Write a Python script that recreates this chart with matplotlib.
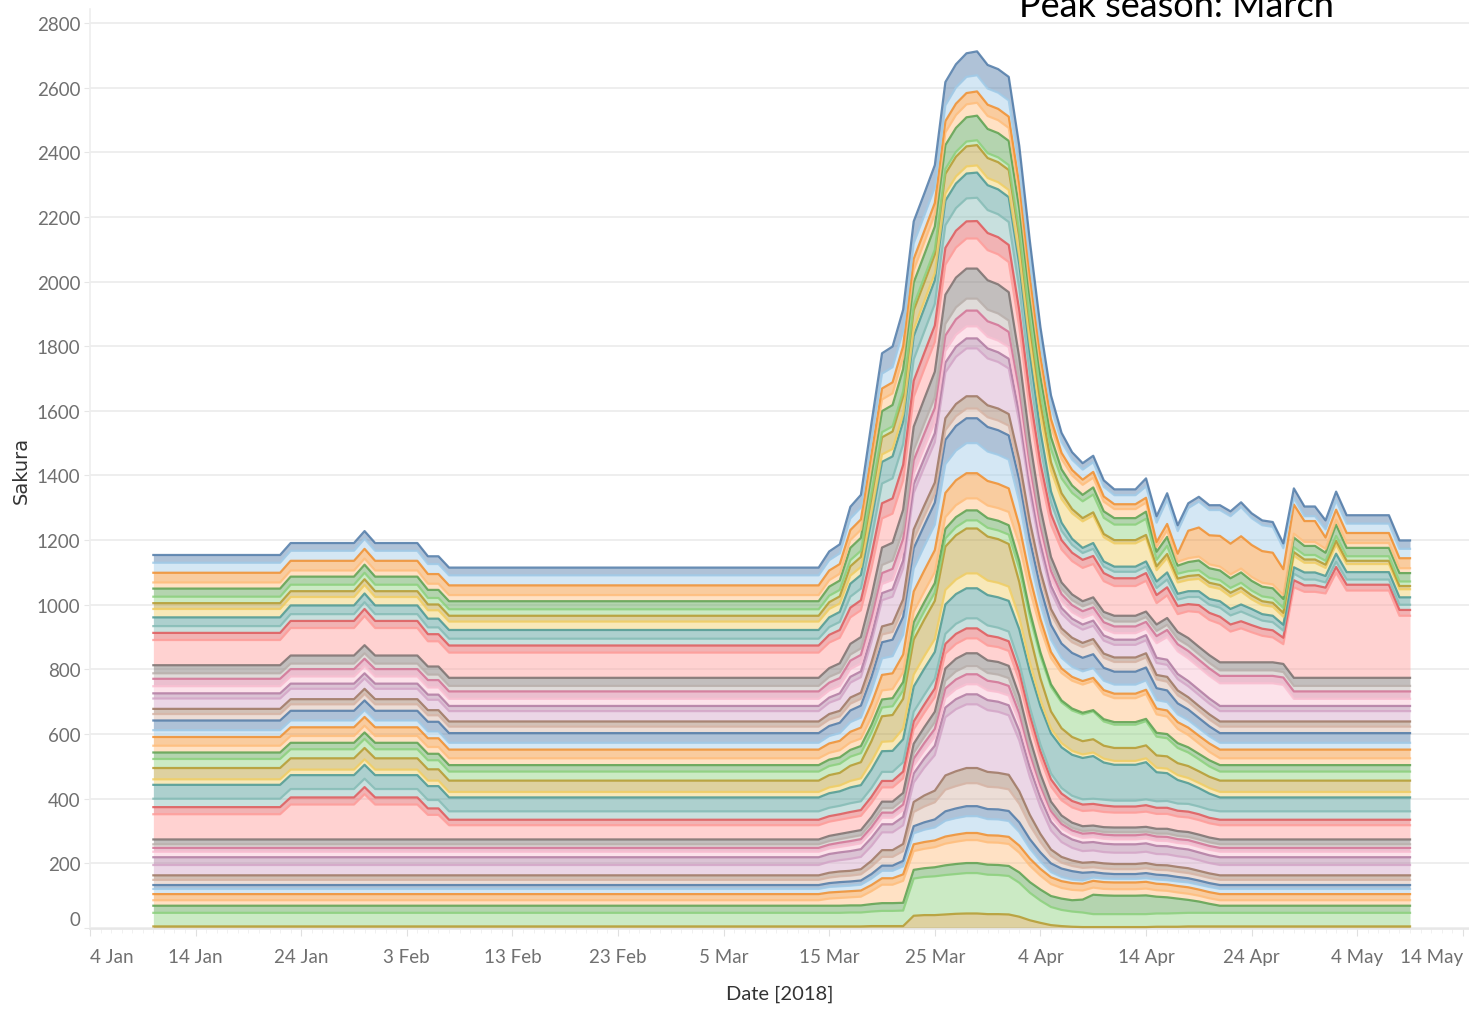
import numpy as np
import pandas as pd
import matplotlib.pyplot as plt
import matplotlib.dates as mdates

# ============================================================
# data: dates where the stacked values change (2018)
# ============================================================
dates = pd.to_datetime([
    "2018-01-10", "2018-01-22", "2018-01-23", "2018-01-29", "2018-01-30",
    "2018-01-31", "2018-02-04", "2018-02-05", "2018-02-06", "2018-02-07",
    "2018-03-14", "2018-03-15", "2018-03-16", "2018-03-17", "2018-03-18",
    "2018-03-19", "2018-03-20", "2018-03-21", "2018-03-22", "2018-03-23",
    "2018-03-24", "2018-03-25", "2018-03-26", "2018-03-27", "2018-03-28",
    "2018-03-29", "2018-03-30", "2018-03-31", "2018-04-01", "2018-04-02",
    "2018-04-03", "2018-04-04", "2018-04-05", "2018-04-06", "2018-04-07",
    "2018-04-08", "2018-04-09", "2018-04-10", "2018-04-11", "2018-04-13",
    "2018-04-14", "2018-04-15", "2018-04-16", "2018-04-17", "2018-04-18",
    "2018-04-19", "2018-04-20", "2018-04-21", "2018-04-22", "2018-04-23",
    "2018-04-24", "2018-04-25", "2018-04-26", "2018-04-27", "2018-04-28",
    "2018-04-29", "2018-04-30", "2018-05-01", "2018-05-02", "2018-05-03",
    "2018-05-07", "2018-05-08", "2018-05-09",
])

# series, listed from the top of the stack down to the bottom
s01 = [24] * 10 + [24, 27, 28, 36, 39, 53, 63, 64, 66, 68, 68, 69, 72, 72, 73, 74,
                   73, 73, 73, 70, 62, 49, 36, 28, 23,
                   20, 20, 20, 18, 18, 25, 20, 20, 18, 15, 15, 15, 15,
                   15, 15, 15, 15, 15, 15, 30, 30, 30, 28, 28, 26, 26, 26, 26]
s02 = [31] * 10 + [31, 32, 33, 36, 37, 42, 46, 47, 47, 48, 48, 48, 49, 50, 50, 50,
                   50, 50, 50, 49, 46, 41, 37, 34, 32,
                   31, 30, 30, 28, 28, 35, 60, 75, 70, 70, 80, 78, 80,
                   85, 90, 83, 80, 80, 65, 20, 15, 15, 25, 28, 29, 29, 29, 29]
s03 = [30] * 10 + [30, 30, 30, 31, 32, 33, 34, 34, 34, 35, 35, 35, 35, 35, 35, 35,
                   35, 35, 35, 34, 31, 26, 22, 19, 17,
                   16, 18, 16, 15, 15, 15, 15, 20, 25, 85, 90, 90, 95,
                   95, 100, 99, 98, 98, 80, 90, 65, 65, 35, 31, 31, 31, 31, 31]
s04 = [19] * 10 + [19, 20, 21, 24, 25, 32, 36, 36, 37, 38, 38, 38, 39, 40, 40, 40,
                   40, 40, 40, 40, 38, 36, 34, 32, 31,
                   31, 30, 30, 28, 28, 28, 15, 20, 12, 12, 12, 12, 12,
                   12, 12, 12, 12, 12, 12, 12, 12, 12, 12, 15, 15, 15, 15, 15]
s05 = [25] * 10 + [25, 28, 29, 38, 40, 55, 65, 66, 68, 70, 70, 71, 74, 74, 75, 76,
                   75, 75, 75, 72, 64, 50, 37, 28, 23,
                   20, 22, 20, 20, 20, 22, 25, 28, 25, 28, 30, 30, 30,
                   30, 32, 30, 30, 30, 28, 30, 28, 28, 25, 35, 26, 26, 26, 26]
s06 = [20] * 10 + [20, 20, 20, 19, 19, 17, 16, 16, 16, 16, 16, 15, 15, 15, 15, 15,
                   15, 15, 15, 17, 22, 32, 41, 46, 50,
                   52, 55, 50, 48, 48, 50, 20, 25, 15, 15, 15, 15, 15,
                   15, 15, 15, 15, 15, 15, 15, 14, 14, 12, 15, 14, 14, 14, 14]
s07 = [18] * 10 + [18, 21, 22, 29, 31, 44, 53, 54, 55, 58, 58, 58, 61, 61, 62, 63,
                   62, 62, 62, 59, 52, 39, 26, 18, 13,
                   10, 10, 10, 10, 10, 10, 12, 12, 12, 12, 12, 12, 12,
                   12, 12, 12, 12, 12, 12, 12, 10, 10, 10, 12, 10, 10, 10, 10]
s08 = [26] * 10 + [26, 26, 26, 25, 25, 24, 23, 23, 23, 22, 22, 22, 22, 22, 22, 22,
                   22, 22, 22, 25, 34, 49, 64, 73, 79,
                   82, 85, 75, 72, 72, 72, 35, 45, 35, 35, 38, 38, 38,
                   38, 40, 30, 28, 28, 25, 35, 30, 30, 25, 28, 25, 25, 25, 25]
s09 = [27] * 10 + [27, 30, 31, 40, 42, 57, 67, 68, 70, 72, 72, 73, 76, 76, 77, 78,
                   77, 77, 77, 74, 65, 50, 34, 25, 19,
                   16, 18, 16, 16, 16, 16, 20, 22, 18, 18, 18, 18, 20,
                   20, 22, 22, 20, 20, 18, 20, 22, 22, 20, 25, 23, 23, 23, 23]
s10 = [21] * 10 + [21, 24, 25, 34, 36, 51, 61, 62, 64, 66, 66, 67, 70, 70, 71, 72,
                   71, 71, 71, 69, 61, 49, 36, 29, 24,
                   21, 22, 20, 20, 20, 20, 22, 24, 20, 22, 25, 25, 28,
                   28, 30, 28, 25, 25, 22, 20, 18, 18, 16, 16, 16, 16, 16, 16]
s11 = [22] * 10 + [22, 24, 24, 30, 31, 41, 47, 47, 48, 50, 50, 51, 52, 52, 53, 54,
                   53, 53, 53, 52, 47, 40, 33, 29, 26,
                   25, 25, 25, 24, 24, 24, 25, 25, 25, 22, 22, 22, 22,
                   22, 22, 22, 22, 22, 20, 22, 20, 20, 18, 18, 18, 18, 18, 18]
s12 = [78, 78, 85, 85, 90, 85, 85, 78, 78, 78,
       78, 79, 79, 82, 83, 87, 90, 90, 91, 92, 92, 92, 93, 93, 93, 93,
       93, 93, 93, 94, 95, 98, 100, 102, 103,
       103, 103, 95, 92, 92, 95, 66, 70, 55, 83, 107, 109, 119,
       95, 105, 93, 82, 77, 61, 280, 266, 266, 261, 325, 270, 270, 192, 192]
s13 = [25] * 10 + [25, 27, 28, 33, 35, 43, 54, 55, 62, 73, 76, 79, 90, 92, 93, 93,
                   91, 90, 88, 70, 51, 35, 25, 20, 18,
                   16, 16, 17, 18, 18, 17, 20, 21, 22, 23, 23, 24, 25] + [25] * 15
s14 = [17] * 10 + [17, 18, 18, 19, 20, 22, 25, 26, 28, 31, 32, 33, 36, 37, 37, 37,
                   36, 36, 35, 30, 25, 21, 18, 16, 15,
                   15, 15, 15, 15, 15, 15, 16, 16, 16, 17, 17, 17, 17] + [17] * 15
s15 = [23] * 10 + [23, 24, 24, 26, 27, 30, 34, 34, 37, 41, 43, 44, 48, 48, 49, 49,
                   48, 48, 47, 41, 34, 28, 24, 22, 22,
                   21, 21, 21, 21, 21, 21, 22, 22, 22, 23, 23, 23, 23] + [23] * 15
s16 = [22] * 10 + [22, 22, 23, 24, 24, 26, 28, 29, 30, 33, 33, 34, 36, 37, 37, 37,
                   36, 36, 36, 32, 28, 24, 22, 21, 20,
                   20, 20, 20, 20, 20, 20, 45, 70, 70, 70, 70, 70, 70,
                   70, 70, 70, 70, 70, 65, 22, 22, 22, 22, 22, 22, 22, 22, 22]
s17 = [16] * 10 + [16, 16, 17, 18, 18, 20, 22, 23, 24, 27, 27, 28, 30, 31, 31, 31,
                   31, 30, 30, 27, 23, 20, 18, 17, 16] + [16] * 28
s18 = [32] * 10 + [32, 35, 37, 46, 48, 63, 81, 83, 96, 113, 119, 125, 142, 146, 148, 148,
                   145, 144, 141, 116, 89, 68, 54, 46, 43,
                   41, 41, 40, 39, 39, 40, 37, 37, 35, 34, 34, 33, 32] + [32] * 15
s19 = [16] * 10 + [16, 17, 17, 19, 19, 22, 25, 26, 28, 31, 33, 34, 37, 38, 38, 38,
                   37, 37, 36, 31, 24, 19, 16, 14, 14,
                   13, 13, 13, 14, 14, 13, 14, 15, 15, 15, 15, 16, 16] + [16] * 15
s20 = [20] * 10 + [20, 20, 20, 21, 21, 23, 24, 24, 26, 27, 28, 28, 30, 30, 30, 30,
                   30, 30, 30, 31, 32, 32, 33, 33, 33,
                   33, 34, 31, 30, 30, 31, 27, 27, 25, 23, 22, 21, 20] + [20] * 15
s21 = [30] * 10 + [30, 31, 32, 36, 37, 43, 50, 51, 56, 63, 65, 68, 75, 76, 77, 77,
                   76, 76, 75, 67, 58, 51, 46, 44, 43,
                   42, 43, 40, 40, 40, 40, 37, 36, 34, 33, 32, 31, 30] + [30] * 15
s22 = [21] * 10 + [21, 23, 24, 30, 31, 40, 51, 53, 61, 71, 75, 79, 89, 92, 93, 93,
                   91, 90, 89, 74, 58, 46, 38, 33, 31,
                   30, 30, 29, 28, 28, 29, 26, 26, 24, 23, 23, 22, 21] + [21] * 15
s23 = [27] * 10 + [27, 29, 29, 33, 34, 41, 48, 49, 55, 63, 65, 68, 75, 77, 78, 78,
                   76, 75, 73, 58, 41, 28, 19, 14, 12,
                   11, 10, 13, 14, 14, 13, 18, 19, 21, 23, 24, 26, 27] + [27] * 15
s24 = [21] * 10 + [21, 21, 22, 23, 23, 25, 28, 28, 30, 32, 33, 34, 36, 37, 37, 37,
                   39, 39, 41, 52, 65, 75, 81, 85, 86,
                   87, 90, 77, 74, 74, 77, 57, 54, 44, 38, 32, 26, 21] + [21] * 15
s25 = [20] * 10 + [20, 20, 20, 21, 22, 23, 25, 25, 26, 28, 28, 29, 30, 31, 31, 31,
                   30, 30, 29, 23, 17, 12, 8, 6, 6,
                   5, 4, 7, 8, 8, 7, 12, 13, 15, 16, 17, 19, 20] + [20] * 15
s26 = [28] * 10 + [28, 28, 28, 28, 28, 27, 27, 27, 26, 26, 26, 26, 25, 25, 25, 25,
                   27, 27, 29, 42, 57, 69, 76, 80, 82,
                   83, 86, 75, 72, 72, 75, 58, 56, 47, 42, 37, 32, 28] + [28] * 15
s27 = [35] * 10 + [35, 38, 39, 47, 50, 63, 79, 81, 92, 108, 113, 118, 134, 137, 139, 139,
                   136, 135, 132, 110, 85, 66, 53, 46, 43,
                   41, 41, 40, 40, 40, 40, 38, 38, 37, 37, 36, 35, 35] + [35] * 15
s28 = [17] * 10 + [17, 18, 18, 20, 21, 25, 29, 30, 33, 37, 39, 40, 45, 45, 46, 46,
                   45, 45, 44, 36, 27, 20, 15, 13, 12,
                   11, 11, 12, 12, 12, 12, 14, 14, 15, 16, 16, 17, 17] + [17] * 15
s29 = [43] * 10 + [43, 45, 45, 49, 50, 57, 64, 65, 71, 78, 81, 83, 91, 92, 93, 93,
                   94, 94, 95, 104, 112, 119, 124, 126, 127,
                   128, 132, 115, 111, 111, 115, 90, 86, 73, 64, 57, 50, 43] + [43] * 15
s30 = [26] * 10 + [26, 26, 26, 27, 27, 27, 28, 28, 29, 30, 30, 30, 31, 31, 31, 31,
                   31, 30, 30, 27, 23, 20, 18, 17, 16,
                   16, 16, 18, 18, 18, 18, 20, 21, 22, 24, 24, 25, 26] + [26] * 15
s31 = [22, 22, 22, 22, 22, 22, 22, 20, 20, 17,
       17, 17, 17, 18, 18, 19, 20, 20, 21, 24, 25, 27, 30, 31, 31, 31,
       31, 30, 30, 28, 26, 23, 22, 21, 20,
       20, 20, 20, 19, 19, 20, 19, 19, 18, 18, 18, 17, 17] + [17] * 15
s32 = [78, 78, 108, 108, 140, 108, 108, 76, 76, 44,
       44, 44, 44, 44, 44, 44, 44, 44, 45, 45, 45, 45, 46, 46, 46, 46,
       46, 46, 46, 46, 47, 47, 47, 47, 47,
       47, 47, 47, 46, 46, 47, 46, 46, 45, 45, 45, 44, 44] + [44] * 15
s33 = [15] * 10 + [15, 16, 16, 16, 16, 18, 20, 20, 21, 28, 30, 32, 38, 39, 40, 40,
                   39, 39, 38, 34, 28, 23, 19, 17, 16] + [15] * 28
s34 = [11] * 10 + [11, 11, 11, 12, 12, 13, 14, 14, 15, 18, 19, 21, 24, 25, 25, 25,
                   24, 24, 24, 21, 17, 13, 10, 9, 8,
                   8, 8, 8, 9, 9, 8, 9, 10, 10, 10, 11, 11, 11] + [11] * 15
s35 = [12] * 10 + [12, 12, 13, 13, 13, 14, 16, 16, 17, 22, 23, 25, 29, 30, 31, 31,
                   30, 30, 30, 27, 22, 18, 16, 14, 13,
                   13, 13, 13, 13, 13, 13, 13, 13, 12, 12, 12, 12, 12] + [12] * 15
s36 = [17] * 10 + [17, 17, 17, 18, 18, 19, 20, 20, 21, 24, 25, 27, 30, 31, 31, 31,
                   30, 30, 30, 27, 23, 20, 17, 16, 15,
                   15, 15, 15, 15, 15, 15, 16, 16, 16, 17, 17, 17, 17] + [17] * 15
s37 = [24] * 10 + [24, 24, 24, 24, 24, 25, 25, 25, 26, 28, 28, 29, 30, 31, 31, 31,
                   31, 31, 31, 30, 29, 28, 27, 26, 26,
                   26, 26, 26, 26, 26, 26, 25, 25, 25, 25, 24, 24, 24] + [24] * 15
s38 = [32] * 10 + [32, 34, 35, 37, 38, 46, 55, 55, 58, 60, 86, 110, 180, 192, 197, 197,
                   191, 189, 184, 157, 117, 84, 59, 46, 39,
                   36, 36, 35, 35, 35, 35, 34, 34, 33, 33, 33, 32, 32] + [32] * 15
s39 = [14] * 10 + [14, 15, 15, 15, 16, 18, 21, 21, 22, 31, 34, 36, 44, 46, 47, 47,
                   46, 45, 45, 39, 32, 25, 20, 18, 17,
                   16, 16, 16, 16, 16, 16, 15, 15, 15, 15, 14, 14, 14] + [14] * 15
s40 = [16] * 10 + [16, 17, 18, 18, 19, 23, 27, 27, 30, 44, 49, 53, 67, 69, 71, 71,
                   69, 68, 67, 57, 43, 32, 23, 18, 16,
                   15, 15, 15, 15, 15, 15, 15, 16, 16, 16, 16, 16, 16] + [16] * 15
s41 = [12] * 10 + [12, 12, 13, 13, 13, 14, 16, 16, 17, 22, 23, 25, 29, 30, 31, 31,
                   31, 31, 31, 30, 29, 28, 27, 26, 26,
                   24, 17, 16, 15, 15, 16, 15, 15, 14, 13, 13, 12, 12] + [12] * 15
s42 = [16] * 10 + [16, 17, 17, 17, 18, 20, 23, 23, 25, 34, 38, 40, 49, 51, 52, 52,
                   50, 50, 49, 42, 31, 23, 16, 13, 11,
                   10, 10, 11, 11, 11, 11, 13, 13, 14, 15, 15, 16, 16] + [16] * 15
s43 = [19] * 10 + [19, 19, 19, 19, 19, 19, 20, 20, 20, 21, 21, 21, 22, 22, 22, 22,
                   22, 22, 22, 22, 22, 21, 21, 21, 21,
                   21, 21, 21, 21, 21, 21, 20, 20, 20, 20, 19, 19, 19] + [19] * 15
s44 = [17] * 10 + [17, 22, 24, 25, 27, 40, 57, 57, 68, 58, 60, 62, 67, 69, 71, 71,
                   69, 69, 68, 61, 51, 43, 37, 33, 32,
                   28, 22, 20, 20, 20, 21, 20, 20, 19, 19, 18, 17, 17] + [17] * 15
s45 = [22] * 10 + [22, 22, 22, 22, 22, 23, 24, 24, 24, 27, 27, 28, 30, 31, 31, 31,
                   31, 31, 31, 32, 33, 34, 34, 35, 35,
                   40, 60, 58, 57, 57, 58, 52, 50, 45, 40, 35, 28, 22] + [22] * 15
s46 = [42] * 10 + [42, 42, 42, 43, 43, 45, 47, 47, 48, 115, 118, 120, 122, 123, 125, 125,
                   122, 121, 119, 105, 85, 69, 56, 50, 47,
                   45, 40, 40, 40, 40, 40, 41, 41, 42, 42, 42, 42, 42] + [42] * 15
s47 = [5] * 10 + [5, 5, 5, 5, 5, 6, 6, 6, 6, 38, 40, 40, 42, 44, 45, 45,
                  43, 43, 42, 35, 24, 16, 9, 6, 4,
                  3, 3, 3, 3, 3, 3, 4, 4, 4, 5, 5, 5, 5] + [5] * 15

series = [s01, s02, s03, s04, s05, s06, s07, s08, s09, s10,
          s11, s12, s13, s14, s15, s16, s17, s18, s19, s20,
          s21, s22, s23, s24, s25, s26, s27, s28, s29, s30,
          s31, s32, s33, s34, s35, s36, s37, s38, s39, s40,
          s41, s42, s43, s44, s45, s46, s47]

# tableau 20 palette, cycled from the top series down
TAB20 = ["#4E79A7", "#A0CBE8", "#F28E2B", "#FFBE7D", "#59A14F", "#8CD17D",
         "#B6992D", "#F1CE63", "#499894", "#86BCB6", "#E15759", "#FF9D9A",
         "#79706E", "#BAB0AC", "#D37295", "#FABFD2", "#B07AA1", "#D4A6C8",
         "#9D7660", "#D7B5A6"]

xtick_dates = ["2018-01-04", "2018-01-14", "2018-01-24", "2018-02-03", "2018-02-13",
               "2018-02-23", "2018-03-05", "2018-03-15", "2018-03-25", "2018-04-04",
               "2018-04-14", "2018-04-24", "2018-05-04", "2018-05-14"]
xtick_labels = ["4 Jan", "14 Jan", "24 Jan", "3 Feb", "13 Feb", "23 Feb", "5 Mar",
                "15 Mar", "25 Mar", "4 Apr", "14 Apr", "24 Apr", "4 May", "14 May"]
ytick_values = list(range(0, 2801, 200))

TICK_FONT = ["Lato", "DejaVu Sans"]

# ============================================================
# plot
# ============================================================
x = mdates.date2num(dates)
for s in series:
    assert len(s) == len(x)

fig = plt.figure(figsize=(14.69, 10.12), dpi=100)
ax = fig.add_axes([90 / 1469, 1 - 930 / 1012, 1 - 90 / 1469, 920 / 1012])

# stack from the bottom series upwards
base = np.zeros(len(x))
tops = []
for i in range(len(series) - 1, -1, -1):
    col = TAB20[i % 20]
    top = base + np.array(series[i], dtype=float)
    ax.fill_between(x, base, top, color=col, alpha=0.45, linewidth=0, zorder=2)
    tops.append((top, col))
    base = top

for top, col in tops:
    ax.plot(x, top, color=col, lw=1.6, alpha=0.85, zorder=3,
            solid_joinstyle="round")

# axes range
ax.set_xlim(mdates.date2num(pd.Timestamp("2018-01-04")),
            mdates.date2num(pd.Timestamp("2018-05-14 14:00")))
ax.set_ylim(-3, 2843)

# y axis
ax.set_yticks(ytick_values)
ax.set_yticklabels([str(v) for v in ytick_values])
ax.tick_params(axis="y", length=4, color="#E6E6E6", pad=3,
               labelsize=13.5, labelcolor="#707070")
for lab in ax.get_yticklabels():
    lab.set_family(TICK_FONT)
ax.get_yticklabels()[0].set_va("bottom")

# x axis
ax.set_xticks(mdates.date2num(pd.to_datetime(xtick_dates)))
ax.set_xticklabels(xtick_labels)
ax.xaxis.set_minor_locator(mdates.DayLocator())
ax.tick_params(axis="x", which="major", length=5, color="#E0E0E0", pad=9,
               labelsize=13.5, labelcolor="#707070")
ax.tick_params(axis="x", which="minor", length=3, color="#EFEFEF")
for lab in ax.get_xticklabels():
    lab.set_family(TICK_FONT)
xl = ax.get_xticklabels()
xl[0].set_ha("left")
xl[-1].set_ha("right")

ax.grid(axis="y", color="#EDEDED", lw=1.3, zorder=0)
ax.set_axisbelow(True)

for side in ["top", "right"]:
    ax.spines[side].set_visible(False)
ax.spines["left"].set_color("#EEEEEE")
ax.spines["bottom"].set_color("#E6E6E6")
ax.spines["left"].set_linewidth(1.2)
ax.spines["bottom"].set_linewidth(1.2)

ax.set_xlabel("Date [2018]", fontsize=14.5, color="#333333", labelpad=14,
              family=TICK_FONT)
ax.set_ylabel("Sakura", fontsize=14, color="#333333", labelpad=4)

fig.text(1176 / 1469, 1 - 17 / 1012, "Peak season: March", ha="center",
         va="baseline", fontsize=26, color="#000000",
         family=["Lato", "DejaVu Sans"], fontweight="normal")

fig.savefig("out.png", dpi=100)
